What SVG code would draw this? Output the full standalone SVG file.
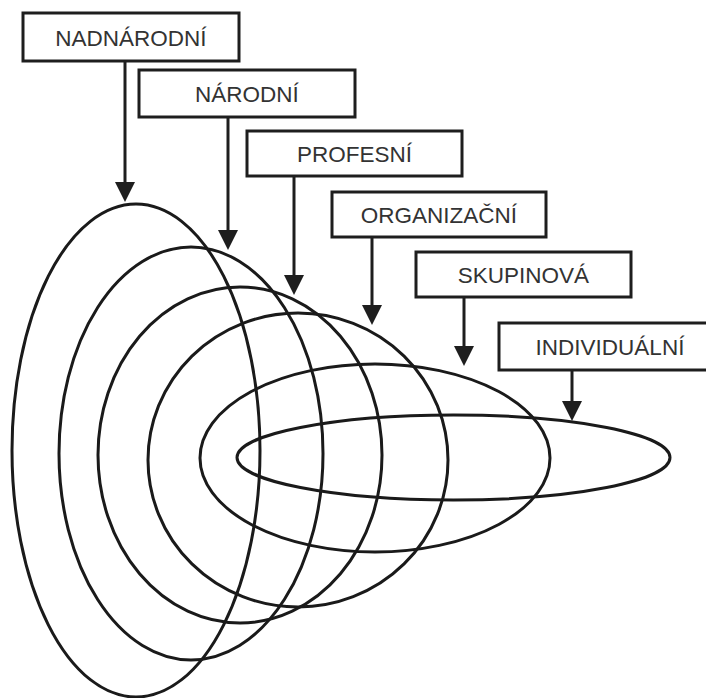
<svg xmlns="http://www.w3.org/2000/svg" width="706" height="698" viewBox="0 0 706 698">
<style>
.box{fill:#fff;stroke:#1e1e1e;stroke-width:3}
.lbl{font-family:"Liberation Sans",Arial,sans-serif;font-size:22.5px;fill:#333;text-anchor:middle}
.ring{fill:none;stroke:#1a1a1a;stroke-width:3}
.arr{stroke:#1e1e1e;stroke-width:3;marker-end:url(#ah)}
</style>
<defs>
<marker id="ah" markerUnits="userSpaceOnUse" markerWidth="20" markerHeight="20" refX="10" refY="10" orient="auto">
<path d="M0,0 L20,10 L0,20 z" fill="#1e1e1e"/>
</marker>
</defs>
<rect width="706" height="698" fill="#fff"/>
<g id="rings">
<ellipse id="ring-nadnarodni" class="ring" cx="136" cy="450.5" rx="124" ry="246.5"/>
<ellipse id="ring-narodni" class="ring" cx="191" cy="453.5" rx="132" ry="206.5"/>
<ellipse id="ring-profesni" class="ring" cx="240" cy="455" rx="142" ry="168"/>
<ellipse id="ring-organizacni" class="ring" cx="298" cy="460" rx="150" ry="147"/>
<ellipse id="ring-skupinova" class="ring" cx="375" cy="458" rx="175" ry="94"/>
<ellipse id="ring-individualni" class="ring" cx="453.5" cy="457.5" rx="216.5" ry="42.5"/>
</g>
<g id="connectors">
<line class="arr" x1="125" y1="61" x2="125" y2="192"/>
<line class="arr" x1="228" y1="117" x2="228" y2="240"/>
<line class="arr" x1="294" y1="176" x2="294" y2="285"/>
<line class="arr" x1="372" y1="237" x2="372" y2="315"/>
<line class="arr" x1="464" y1="297" x2="464" y2="356"/>
<line class="arr" x1="572" y1="370" x2="572" y2="411"/>
</g>
<g id="node-nadnarodni">
<rect class="box" x="23" y="13" width="216" height="48"/>
<text class="lbl" x="131" y="46">NADNÁRODNÍ</text>
</g>
<g id="node-narodni">
<rect class="box" x="139" y="70" width="216" height="47"/>
<text class="lbl" x="247" y="102">NÁRODNÍ</text>
</g>
<g id="node-profesni">
<rect class="box" x="247" y="131" width="215" height="45"/>
<text class="lbl" x="354.5" y="162">PROFESNÍ</text>
</g>
<g id="node-organizacni">
<rect class="box" x="332" y="192" width="214" height="45"/>
<text class="lbl" x="439" y="223">ORGANIZAČNÍ</text>
</g>
<g id="node-skupinova">
<rect class="box" x="416" y="252" width="215" height="45"/>
<text class="lbl" x="523.5" y="283">SKUPINOVÁ</text>
</g>
<g id="node-individualni">
<rect class="box" x="499" y="323" width="222" height="47"/>
<text class="lbl" x="610" y="355">INDIVIDUÁLNÍ</text>
</g>
</svg>
